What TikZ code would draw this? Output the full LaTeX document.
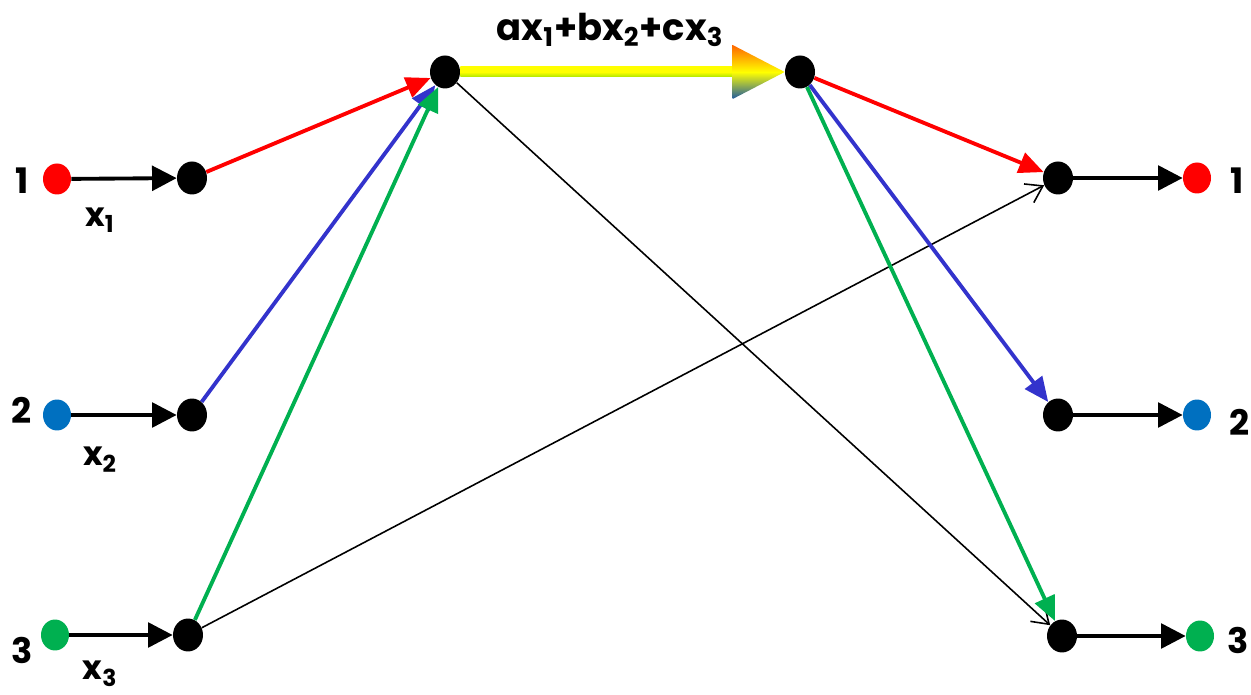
\documentclass[tikz,border=0pt]{standalone}
\usepackage{fontspec}
\setmainfont{Poppins}
\usetikzlibrary{arrows.meta,shapes.geometric,calc}
\definecolor{netred}{RGB}{255,0,0}
\definecolor{netblue}{RGB}{51,51,204}
\definecolor{srcblue}{RGB}{0,112,192}
\definecolor{netgreen}{RGB}{0,176,80}
\definecolor{headblue}{RGB}{30,90,160}
\begin{document}
\begin{tikzpicture}[
  x=0.02cm, y=-0.02cm,
  dot/.style={ellipse, inner sep=0pt, minimum width=0.6cm, minimum height=0.66cm, fill=black},
  src/.style={ellipse, inner sep=0pt, minimum width=0.56cm, minimum height=0.62cm},
  num/.style={inner sep=0pt, font=\bfseries\fontsize{20}{24}\selectfont},
  var/.style={inner sep=0pt, font=\bfseries\fontsize{19}{23}\selectfont},
  feed/.style={line width=2.2pt, -{Triangle[length=14pt,width=14pt]}},
  mix/.style={line width=2.2pt, -{Triangle[length=14pt,width=12pt]}},
  cross/.style={line width=0.9pt, -{Straight Barb[length=9pt,width=12pt]}}
]
\useasboundingbox (0,0) rectangle (1251,695);

\node[src, fill=netred] (in1) at (57,179) {};
\node[src, fill=srcblue] (in2) at (57,415) {};
\node[src, fill=netgreen] (in3) at (55,635) {};
\node[dot] (a1) at (192,178) {};
\node[dot] (a2) at (192,415) {};
\node[dot] (a3) at (188,635) {};
\node[dot] (hubL) at (445,72) {};
\node[dot] (hubR) at (800,72) {};
\node[dot] (b1) at (1058,178) {};
\node[dot] (b2) at (1058,415) {};
\node[dot] (b3) at (1062,636) {};
\node[src, fill=netred] (out1) at (1197,178) {};
\node[src, fill=srcblue] (out2) at (1197,415) {};
\node[src, fill=netgreen] (out3) at (1200,636) {};

\node[num] (n1L) at (22,181) {1};
\node[num] (n2L) at (22,410) {2};
\node[num] (n3L) at (22,650) {3};
\node[num] (n1R) at (1237,181) {1};
\node[num] (n2R) at (1240,422) {2};
\node[num] (n3R) at (1238,640) {3};
\node[var] (x1) at (100,220) {x\textsubscript{1}};
\node[var] (x2) at (100,460) {x\textsubscript{2}};
\node[var] (x3) at (100,674) {x\textsubscript{3}};
\node[inner sep=0pt, font=\bfseries\fontsize{21}{25}\selectfont] (sum) at (610,30)
  {ax\textsubscript{1}+bx\textsubscript{2}+cx\textsubscript{3}};

\foreach \i in {1,2,3} {
  \draw[feed] (in\i) -- (a\i);
  \draw[feed] (b\i) -- (out\i);
}
\draw[mix, netred] (a1) -- (hubL);
\draw[mix, netblue] (a2) -- (hubL);
\draw[mix, netgreen] (a3) -- (hubL);
\draw[cross] (a3) -- (b1);
\draw[cross] (hubL) -- (b3);
\draw[mix, netred] (hubR) -- (b1);
\draw[mix, netblue] (hubR) -- (b2);
\draw[mix, netgreen] (hubR) -- (b3);

\shade[top color=yellow, bottom color=yellow!75!green!90!black, middle color=yellow]
  ($(hubL.east)+(0,-5)$) rectangle ($(hubR.west)+(-52,5)$);
\shade[top color=orange!80!red, bottom color=headblue, middle color=yellow]
  ($(hubR.west)+(-52,-27)$) -- (hubR.west) -- ($(hubR.west)+(-52,27)$) -- cycle;
\end{tikzpicture}
\end{document}
